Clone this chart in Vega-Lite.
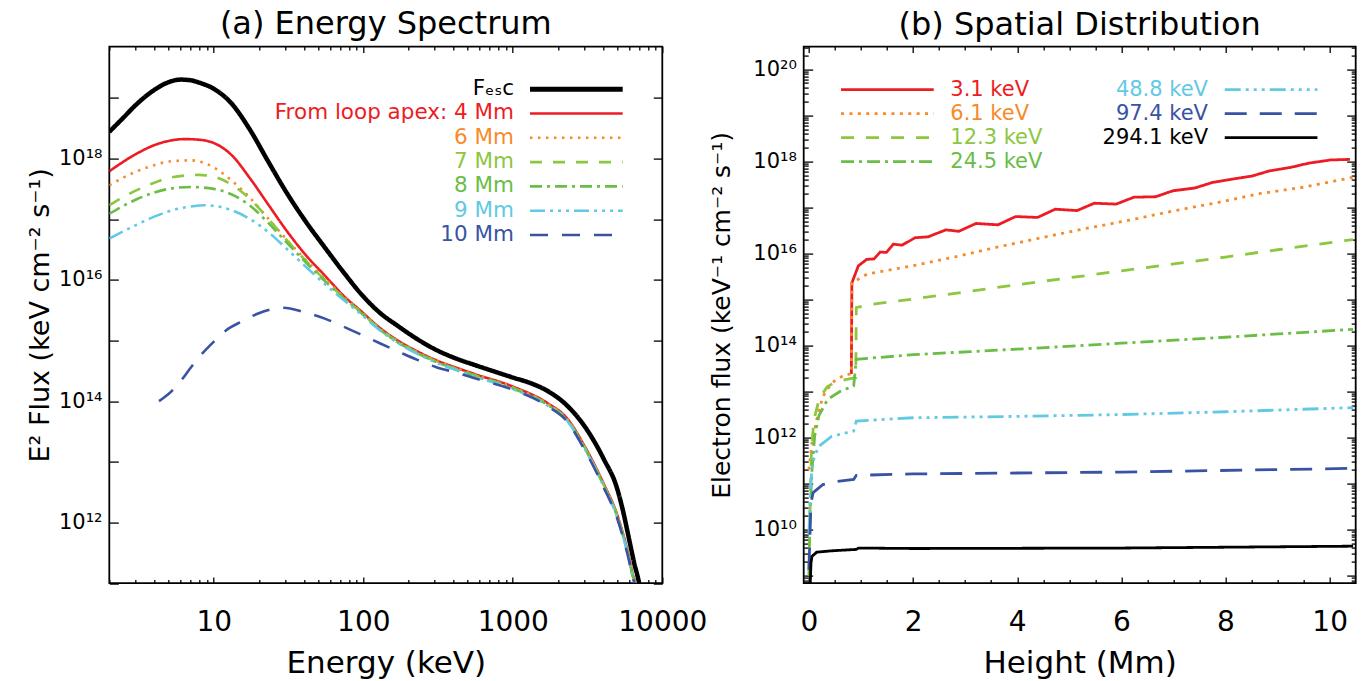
{
  "$schema": "https://vega.github.io/schema/vega-lite/v6.json",
  "autosize": {"type": "pad"},
  "padding": {"left": 25.3, "top": 6.6, "right": 5, "bottom": 5},
  "bounds": "flush",
  "spacing": 141.4,
  "background": "white",
  "config": {
    "view": {"stroke": "black", "strokeWidth": 1.8},
    "font": "DejaVu Sans",
    "axis": {"domain": false, "grid": false, "tickColor": "black", "tickWidth": 1.3, "labelColor": "black", "titleColor": "black", "labelFont": "DejaVu Sans", "titleFont": "DejaVu Sans", "titleFontWeight": "normal", "labelOverlap": false, "labelFlush": false, "labelBound": false},
    "title": {"font": "DejaVu Sans", "fontSize": 32, "fontWeight": "normal", "color": "black", "baseline": "alphabetic", "anchor": "middle", "frame": "group"},
    "legend": {"title": null, "symbolType": "stroke", "padding": 0, "labelFont": "DejaVu Sans", "labelLimit": 500, "clipHeight": 24, "symbolSize": 8593, "symbolOffset": 0}
  },
  "datasets": {
    "spec": [
      {"s":"F_esc","E":2,"F":2.75e18},{"s":"F_esc","E":2.5,"F":4.79e18},{"s":"F_esc","E":3,"F":7.59e18},{"s":"F_esc","E":4,"F":1.35e19},{"s":"F_esc","E":5,"F":1.82e19},{"s":"F_esc","E":6,"F":2.0e19},{"s":"F_esc","E":7,"F":1.95e19},{"s":"F_esc","E":8,"F":1.78e19},{"s":"F_esc","E":10,"F":1.41e19},{"s":"F_esc","E":13,"F":8.32e18},{"s":"F_esc","E":17.5,"F":2.95e18},{"s":"F_esc","E":23,"F":9.12e17},{"s":"F_esc","E":31,"F":2.63e17},{"s":"F_esc","E":41.5,"F":8.91e16},{"s":"F_esc","E":55,"F":3.47e16},{"s":"F_esc","E":74,"F":1.32e16},{"s":"F_esc","E":98,"F":5.62e15},{"s":"F_esc","E":130,"F":2.82e15},{"s":"F_esc","E":170,"F":1.74e15},{"s":"F_esc","E":230,"F":1.05e15},{"s":"F_esc","E":310,"F":6.92e14},{"s":"F_esc","E":420,"F":5.01e14},{"s":"F_esc","E":550,"F":3.98e14},{"s":"F_esc","E":750,"F":3.09e14},{"s":"F_esc","E":1000,"F":2.45e14},{"s":"F_esc","E":1300,"F":2.0e14},{"s":"F_esc","E":1700,"F":1.48e14},{"s":"F_esc","E":2300,"F":8.51e13},{"s":"F_esc","E":3050,"F":3.72e13},{"s":"F_esc","E":4050,"F":1.12e13},{"s":"F_esc","E":5000,"F":3.55e12},{"s":"F_esc","E":5450,"F":1.58e12},{"s":"F_esc","E":6000,"F":5.25e11},{"s":"F_esc","E":6470,"F":2.19e11},{"s":"F_esc","E":7000,"F":9.77e10},{"s":"F_esc","E":7300,"F":5.01e10},

      {"s":"4 Mm","E":2,"F":6.17e17},{"s":"4 Mm","E":3,"F":1.175e18},{"s":"4 Mm","E":4,"F":1.66e18},{"s":"4 Mm","E":5,"F":1.95e18},{"s":"4 Mm","E":6.4,"F":2.09e18},{"s":"4 Mm","E":8,"F":2.04e18},{"s":"4 Mm","E":9.9,"F":1.82e18},{"s":"4 Mm","E":13.1,"F":1.15e18},{"s":"4 Mm","E":17.5,"F":4.68e17},{"s":"4 Mm","E":23.3,"F":1.70e17},{"s":"4 Mm","E":31.1,"F":6.17e16},{"s":"4 Mm","E":41.5,"F":2.51e16},{"s":"4 Mm","E":55.3,"F":1.175e16},{"s":"4 Mm","E":73.6,"F":5.50e15},{"s":"4 Mm","E":98,"F":2.95e15},{"s":"4 Mm","E":123,"F":1.78e15},{"s":"4 Mm","E":170,"F":1.0e15},{"s":"4 Mm","E":230,"F":6.61e14},{"s":"4 Mm","E":310,"F":4.68e14},{"s":"4 Mm","E":420,"F":3.55e14},{"s":"4 Mm","E":550,"F":2.82e14},{"s":"4 Mm","E":1000,"F":1.74e14},{"s":"4 Mm","E":1700,"F":9.33e13},{"s":"4 Mm","E":2300,"F":5.25e13},{"s":"4 Mm","E":3050,"F":1.74e13},{"s":"4 Mm","E":4050,"F":4.37e12},{"s":"4 Mm","E":5000,"F":1.32e12},{"s":"4 Mm","E":5450,"F":6.61e11},{"s":"4 Mm","E":6000,"F":2.63e11},{"s":"4 Mm","E":6300,"F":1.48e11},{"s":"4 Mm","E":6700,"F":9.33e10},{"s":"4 Mm","E":7000,"F":5.25e10},

      {"s":"6 Mm","E":2,"F":3.63e17},{"s":"6 Mm","E":3,"F":6.03e17},{"s":"6 Mm","E":4,"F":7.76e17},{"s":"6 Mm","E":5,"F":8.91e17},{"s":"6 Mm","E":7,"F":9.33e17},{"s":"6 Mm","E":9.9,"F":7.24e17},{"s":"6 Mm","E":13.1,"F":4.37e17},{"s":"6 Mm","E":17.5,"F":2.24e17},{"s":"6 Mm","E":23.3,"F":1.0e17},{"s":"6 Mm","E":31.1,"F":4.47e16},{"s":"6 Mm","E":41.5,"F":2.09e16},{"s":"6 Mm","E":55.3,"F":1.05e16},{"s":"6 Mm","E":73.6,"F":5.25e15},{"s":"6 Mm","E":98,"F":2.88e15},{"s":"6 Mm","E":123,"F":1.74e15},{"s":"6 Mm","E":170,"F":9.77e14},{"s":"6 Mm","E":230,"F":6.46e14},{"s":"6 Mm","E":310,"F":4.57e14},{"s":"6 Mm","E":420,"F":3.47e14},{"s":"6 Mm","E":550,"F":2.75e14},{"s":"6 Mm","E":1000,"F":1.70e14},{"s":"6 Mm","E":1700,"F":9.12e13},{"s":"6 Mm","E":2300,"F":5.13e13},{"s":"6 Mm","E":3050,"F":1.70e13},{"s":"6 Mm","E":4050,"F":4.27e12},{"s":"6 Mm","E":5000,"F":1.29e12},{"s":"6 Mm","E":5450,"F":6.46e11},{"s":"6 Mm","E":6000,"F":2.57e11},{"s":"6 Mm","E":6300,"F":1.44e11},{"s":"6 Mm","E":6700,"F":9.12e10},{"s":"6 Mm","E":7000,"F":5.13e10},

      {"s":"7 Mm","E":2,"F":1.70e17},{"s":"7 Mm","E":3,"F":2.95e17},{"s":"7 Mm","E":4,"F":3.98e17},{"s":"7 Mm","E":5,"F":4.79e17},{"s":"7 Mm","E":7.9,"F":5.37e17},{"s":"7 Mm","E":10,"F":5.01e17},{"s":"7 Mm","E":13.1,"F":3.72e17},{"s":"7 Mm","E":17.5,"F":2.14e17},{"s":"7 Mm","E":23.3,"F":1.0e17},{"s":"7 Mm","E":31.1,"F":4.37e16},{"s":"7 Mm","E":41.5,"F":2.04e16},{"s":"7 Mm","E":55.3,"F":1.0e16},{"s":"7 Mm","E":73.6,"F":5.13e15},{"s":"7 Mm","E":98,"F":2.82e15},{"s":"7 Mm","E":123,"F":1.70e15},{"s":"7 Mm","E":170,"F":9.55e14},{"s":"7 Mm","E":230,"F":6.31e14},{"s":"7 Mm","E":310,"F":4.47e14},{"s":"7 Mm","E":420,"F":3.39e14},{"s":"7 Mm","E":550,"F":2.69e14},{"s":"7 Mm","E":1000,"F":1.66e14},{"s":"7 Mm","E":1700,"F":8.91e13},{"s":"7 Mm","E":2300,"F":5.01e13},{"s":"7 Mm","E":3050,"F":1.66e13},{"s":"7 Mm","E":4050,"F":4.17e12},{"s":"7 Mm","E":5000,"F":1.26e12},{"s":"7 Mm","E":5450,"F":6.31e11},{"s":"7 Mm","E":6000,"F":2.51e11},{"s":"7 Mm","E":6300,"F":1.41e11},{"s":"7 Mm","E":6700,"F":8.91e10},{"s":"7 Mm","E":7000,"F":5.01e10},

      {"s":"8 Mm","E":2,"F":1.23e17},{"s":"8 Mm","E":3,"F":2.09e17},{"s":"8 Mm","E":4,"F":2.75e17},{"s":"8 Mm","E":5,"F":3.16e17},{"s":"8 Mm","E":7,"F":3.39e17},{"s":"8 Mm","E":10,"F":3.16e17},{"s":"8 Mm","E":13.1,"F":2.57e17},{"s":"8 Mm","E":17.5,"F":1.66e17},{"s":"8 Mm","E":23.3,"F":8.51e16},{"s":"8 Mm","E":31.1,"F":3.98e16},{"s":"8 Mm","E":41.5,"F":1.91e16},{"s":"8 Mm","E":55.3,"F":9.55e15},{"s":"8 Mm","E":73.6,"F":5.01e15},{"s":"8 Mm","E":98,"F":2.75e15},{"s":"8 Mm","E":123,"F":1.66e15},{"s":"8 Mm","E":170,"F":9.33e14},{"s":"8 Mm","E":230,"F":6.17e14},{"s":"8 Mm","E":310,"F":4.37e14},{"s":"8 Mm","E":420,"F":3.31e14},{"s":"8 Mm","E":550,"F":2.63e14},{"s":"8 Mm","E":1000,"F":1.62e14},{"s":"8 Mm","E":1700,"F":8.71e13},{"s":"8 Mm","E":2300,"F":4.90e13},{"s":"8 Mm","E":3050,"F":1.62e13},{"s":"8 Mm","E":4050,"F":4.07e12},{"s":"8 Mm","E":5000,"F":1.23e12},{"s":"8 Mm","E":5450,"F":6.17e11},{"s":"8 Mm","E":6000,"F":2.45e11},{"s":"8 Mm","E":6300,"F":1.38e11},{"s":"8 Mm","E":6700,"F":8.71e10},{"s":"8 Mm","E":7000,"F":4.90e10},

      {"s":"9 Mm","E":2,"F":4.79e16},{"s":"9 Mm","E":3,"F":7.94e16},{"s":"9 Mm","E":4,"F":1.10e17},{"s":"9 Mm","E":5,"F":1.35e17},{"s":"9 Mm","E":7,"F":1.62e17},{"s":"9 Mm","E":8.8,"F":1.70e17},{"s":"9 Mm","E":10,"F":1.66e17},{"s":"9 Mm","E":13.1,"F":1.41e17},{"s":"9 Mm","E":17.5,"F":1.0e17},{"s":"9 Mm","E":23.3,"F":6.03e16},{"s":"9 Mm","E":31.1,"F":3.16e16},{"s":"9 Mm","E":41.5,"F":1.62e16},{"s":"9 Mm","E":55.3,"F":8.51e15},{"s":"9 Mm","E":73.6,"F":4.68e15},{"s":"9 Mm","E":98,"F":2.63e15},{"s":"9 Mm","E":123,"F":1.62e15},{"s":"9 Mm","E":170,"F":9.12e14},{"s":"9 Mm","E":230,"F":6.03e14},{"s":"9 Mm","E":310,"F":4.27e14},{"s":"9 Mm","E":420,"F":3.24e14},{"s":"9 Mm","E":550,"F":2.57e14},{"s":"9 Mm","E":1000,"F":1.58e14},{"s":"9 Mm","E":1700,"F":8.51e13},{"s":"9 Mm","E":2300,"F":4.79e13},{"s":"9 Mm","E":3050,"F":1.58e13},{"s":"9 Mm","E":4050,"F":3.98e12},{"s":"9 Mm","E":5000,"F":1.20e12},{"s":"9 Mm","E":5450,"F":6.03e11},{"s":"9 Mm","E":6000,"F":2.40e11},{"s":"9 Mm","E":6300,"F":1.35e11},{"s":"9 Mm","E":6700,"F":8.51e10},{"s":"9 Mm","E":7000,"F":4.79e10},

      {"s":"10 Mm","E":4.3,"F":1.0e14},{"s":"10 Mm","E":5,"F":1.32e14},{"s":"10 Mm","E":6,"F":2.14e14},{"s":"10 Mm","E":7,"F":3.55e14},{"s":"10 Mm","E":8,"F":5.37e14},{"s":"10 Mm","E":10,"F":9.55e14},{"s":"10 Mm","E":12,"F":1.45e15},{"s":"10 Mm","E":15.6,"F":2.09e15},{"s":"10 Mm","E":20,"F":2.82e15},{"s":"10 Mm","E":25,"F":3.31e15},{"s":"10 Mm","E":29.3,"F":3.47e15},{"s":"10 Mm","E":40,"F":2.95e15},{"s":"10 Mm","E":55.3,"F":2.29e15},{"s":"10 Mm","E":75,"F":1.66e15},{"s":"10 Mm","E":98,"F":1.23e15},{"s":"10 Mm","E":130,"F":8.91e14},{"s":"10 Mm","E":174,"F":6.46e14},{"s":"10 Mm","E":230,"F":4.79e14},{"s":"10 Mm","E":308,"F":3.63e14},{"s":"10 Mm","E":420,"F":2.95e14},{"s":"10 Mm","E":549,"F":2.40e14},{"s":"10 Mm","E":1000,"F":1.55e14},{"s":"10 Mm","E":1700,"F":8.32e13},{"s":"10 Mm","E":2300,"F":4.68e13},{"s":"10 Mm","E":3050,"F":1.51e13},{"s":"10 Mm","E":4050,"F":3.80e12},{"s":"10 Mm","E":5000,"F":1.15e12},{"s":"10 Mm","E":5450,"F":5.75e11},{"s":"10 Mm","E":6000,"F":2.29e11},{"s":"10 Mm","E":6300,"F":1.29e11},{"s":"10 Mm","E":6700,"F":8.32e10},{"s":"10 Mm","E":7000,"F":4.57e10}
    ],
    "spatial": [
      {"s":"3.1 keV","h":0.815,"F":2.40e13},{"s":"3.1 keV","h":0.825,"F":2.29e15},{"s":"3.1 keV","h":0.95,"F":5.37e15},{"s":"3.1 keV","h":1.11,"F":7.41e15},{"s":"3.1 keV","h":1.25,"F":7.59e15},{"s":"3.1 keV","h":1.37,"F":1.07e16},{"s":"3.1 keV","h":1.49,"F":1.05e16},{"s":"3.1 keV","h":1.62,"F":1.585e16},{"s":"3.1 keV","h":1.79,"F":1.51e16},{"s":"3.1 keV","h":2.04,"F":2.19e16},{"s":"3.1 keV","h":2.29,"F":2.29e16},{"s":"3.1 keV","h":2.63,"F":3.24e16},{"s":"3.1 keV","h":2.88,"F":3.02e16},{"s":"3.1 keV","h":3.21,"F":4.47e16},{"s":"3.1 keV","h":3.63,"F":4.17e16},{"s":"3.1 keV","h":3.97,"F":6.31e16},{"s":"3.1 keV","h":4.39,"F":6.03e16},{"s":"3.1 keV","h":4.73,"F":9.12e16},{"s":"3.1 keV","h":5.15,"F":8.51e16},{"s":"3.1 keV","h":5.48,"F":1.23e17},{"s":"3.1 keV","h":5.90,"F":1.175e17},{"s":"3.1 keV","h":6.24,"F":1.66e17},{"s":"3.1 keV","h":6.66,"F":1.70e17},{"s":"3.1 keV","h":6.99,"F":2.29e17},{"s":"3.1 keV","h":7.41,"F":2.63e17},{"s":"3.1 keV","h":7.75,"F":3.47e17},{"s":"3.1 keV","h":8.17,"F":4.17e17},{"s":"3.1 keV","h":8.51,"F":4.79e17},{"s":"3.1 keV","h":8.84,"F":6.17e17},{"s":"3.1 keV","h":9.26,"F":7.41e17},{"s":"3.1 keV","h":9.60,"F":9.12e17},{"s":"3.1 keV","h":10.02,"F":1.07e18},{"s":"3.1 keV","h":10.39,"F":1.10e18},

      {"s":"6.1 keV","h":0.0,"F":2.0e11},{"s":"6.1 keV","h":0.03,"F":4.0e11},{"s":"6.1 keV","h":0.06,"F":7.59e11},{"s":"6.1 keV","h":0.15,"F":2.45e12},{"s":"6.1 keV","h":0.27,"F":7.94e12},{"s":"6.1 keV","h":0.44,"F":1.55e13},{"s":"6.1 keV","h":0.69,"F":2.34e13},{"s":"6.1 keV","h":0.815,"F":2.40e13},{"s":"6.1 keV","h":0.825,"F":2.29e15},{"s":"6.1 keV","h":1.12,"F":3.55e15},{"s":"6.1 keV","h":1.95,"F":5.25e15},{"s":"6.1 keV","h":2.79,"F":8.32e15},{"s":"6.1 keV","h":3.63,"F":1.38e16},{"s":"6.1 keV","h":4.47,"F":2.19e16},{"s":"6.1 keV","h":5.31,"F":3.47e16},{"s":"6.1 keV","h":6.15,"F":5.25e16},{"s":"6.1 keV","h":6.99,"F":8.32e16},{"s":"6.1 keV","h":7.83,"F":1.26e17},{"s":"6.1 keV","h":8.67,"F":2.0e17},{"s":"6.1 keV","h":9.51,"F":2.75e17},{"s":"6.1 keV","h":10.44,"F":4.47e17},

      {"s":"12.3 keV","h":0.02,"F":2.0e10},{"s":"12.3 keV","h":0.05,"F":6.31e11},{"s":"12.3 keV","h":0.1,"F":2.51e12},{"s":"12.3 keV","h":0.2,"F":7.08e12},{"s":"12.3 keV","h":0.35,"F":1.26e13},{"s":"12.3 keV","h":0.5,"F":1.585e13},{"s":"12.3 keV","h":0.7,"F":1.82e13},{"s":"12.3 keV","h":0.9,"F":2.0e13},{"s":"12.3 keV","h":0.91,"F":6.61e14},{"s":"12.3 keV","h":1.12,"F":7.59e14},{"s":"12.3 keV","h":2,"F":1.02e15},{"s":"12.3 keV","h":3,"F":1.45e15},{"s":"12.3 keV","h":4,"F":2.09e15},{"s":"12.3 keV","h":5,"F":2.95e15},{"s":"12.3 keV","h":6,"F":4.17e15},{"s":"12.3 keV","h":7,"F":5.89e15},{"s":"12.3 keV","h":8,"F":8.32e15},{"s":"12.3 keV","h":9,"F":1.20e16},{"s":"12.3 keV","h":10.45,"F":2.0e16},

      {"s":"24.5 keV","h":0.0,"F":1.0e9},{"s":"24.5 keV","h":0.02,"F":1.95e10},{"s":"24.5 keV","h":0.06,"F":2.0e11},{"s":"24.5 keV","h":0.11,"F":1.07e12},{"s":"24.5 keV","h":0.19,"F":2.95e12},{"s":"24.5 keV","h":0.36,"F":6.76e12},{"s":"24.5 keV","h":0.61,"F":1.02e13},{"s":"24.5 keV","h":0.86,"F":1.32e13},{"s":"24.5 keV","h":0.91,"F":5.01e13},{"s":"24.5 keV","h":2,"F":6.31e13},{"s":"24.5 keV","h":4,"F":8.32e13},{"s":"24.5 keV","h":6,"F":1.12e14},{"s":"24.5 keV","h":8,"F":1.51e14},{"s":"24.5 keV","h":10.45,"F":2.24e14},

      {"s":"48.8 keV","h":0.0,"F":7.94e9},{"s":"48.8 keV","h":0.02,"F":3.98e10},{"s":"48.8 keV","h":0.04,"F":1.0e11},{"s":"48.8 keV","h":0.06,"F":2.40e11},{"s":"48.8 keV","h":0.11,"F":3.98e11},{"s":"48.8 keV","h":0.19,"F":6.46e11},{"s":"48.8 keV","h":0.44,"F":1.07e12},{"s":"48.8 keV","h":0.86,"F":1.38e12},{"s":"48.8 keV","h":0.91,"F":2.29e12},{"s":"48.8 keV","h":2,"F":2.69e12},{"s":"48.8 keV","h":4,"F":2.88e12},{"s":"48.8 keV","h":6,"F":3.16e12},{"s":"48.8 keV","h":8,"F":3.63e12},{"s":"48.8 keV","h":10.45,"F":4.47e12},

      {"s":"97.4 keV","h":0.0,"F":1.35e9},{"s":"97.4 keV","h":0.02,"F":7.24e9},{"s":"97.4 keV","h":0.04,"F":3.80e10},{"s":"97.4 keV","h":0.08,"F":6.31e10},{"s":"97.4 keV","h":0.15,"F":7.41e10},{"s":"97.4 keV","h":0.27,"F":9.55e10},{"s":"97.4 keV","h":0.5,"F":1.10e11},{"s":"97.4 keV","h":0.86,"F":1.23e11},{"s":"97.4 keV","h":0.91,"F":1.51e11},{"s":"97.4 keV","h":2,"F":1.62e11},{"s":"97.4 keV","h":6,"F":1.78e11},{"s":"97.4 keV","h":10.45,"F":2.14e11},

      {"s":"294.1 keV","h":0.015,"F":3.16e8},{"s":"294.1 keV","h":0.04,"F":1.91e9},{"s":"294.1 keV","h":0.06,"F":2.63e9},{"s":"294.1 keV","h":0.15,"F":3.24e9},{"s":"294.1 keV","h":0.44,"F":3.47e9},{"s":"294.1 keV","h":0.91,"F":3.72e9},{"s":"294.1 keV","h":0.95,"F":3.98e9},{"s":"294.1 keV","h":2,"F":3.89e9},{"s":"294.1 keV","h":6,"F":3.98e9},{"s":"294.1 keV","h":10.45,"F":4.37e9}
    ]
  },
  "hconcat": [
    {
      "width": 553,
      "height": 536.5,
      "title": {"text": "(a) Energy Spectrum", "offset": 4.5},
      "data": {"name": "spec"},
      "layer": [
        {
          "mark": {"type": "line", "clip": true, "interpolate": "monotone"},
          "encoding": {
            "x": {"field": "E", "type": "quantitative",
              "scale": {"type": "log", "domain": [2, 10000], "nice": false},
              "axis": {"orient": "bottom", "title": "Energy (keV)", "titleFontSize": 31, "titleY": 89, "titleBaseline": "alphabetic",
                "values": [2,3,4,5,6,7,8,9,10,20,30,40,50,60,70,80,90,100,200,300,400,500,600,700,800,900,1000,2000,3000,4000,5000,6000,7000,8000,9000,10000],
                "labelExpr": "datum.value == 10 ? '10' : datum.value == 100 ? '100' : datum.value == 1000 ? '1000' : datum.value == 10000 ? '10000' : ''",
                "labelFontSize": 28, "labelPadding": 31,
                "tickSize": {"condition": {"test": "indexof([10,100,1000,10000], datum.value) >= 0", "value": -6}, "value": -3.5}}},
            "y": {"field": "F", "type": "quantitative",
              "scale": {"type": "log", "domain": [1e11, 7e19], "nice": false},
              "axis": {"orient": "left", "title": "E² Flux (keV cm⁻² s⁻¹)", "titleFontSize": 27, "titleX": -68.8, "titleY": 268.25, "titleBaseline": "middle", "titleAngle": -90,
                "values": [1e11,1e12,1e13,1e14,1e15,1e16,1e17,1e18,1e19],
                "labelExpr": "datum.value == 1e12 ? '10¹²' : datum.value == 1e14 ? '10¹⁴' : datum.value == 1e16 ? '10¹⁶' : datum.value == 1e18 ? '10¹⁸' : ''",
                "labelFontSize": 21, "labelPadding": 16.3, "tickSize": -9}},
            "color": {"field": "s", "type": "nominal",
              "scale": {"domain": ["F_esc","4 Mm","6 Mm","7 Mm","8 Mm","9 Mm","10 Mm"], "range": ["#000000","#ED1C24","#F68B2C","#8DC63F","#6ABD45","#62C9E3","#3953A4"]},
              "legend": {"orient": "none", "legendX": 419.05, "legendY": 30.6, "rowPadding": 0.3, "labelFontSize": 21.5, "symbolStrokeWidth": 2.6,
                "labelExpr": "datum.value == 'F_esc' ? 'Fₑₛc' : datum.value == '4 Mm' ? 'From loop apex: 4 Mm' : datum.value",
                "encode": {
                  "entries": {"update": {"width": {"value": 120}}},
                  "labels": {"update": {"x": {"value": -14.35}, "align": {"value": "right"}, "fill": {"signal": "(datum.value == 'F_esc' ? '#000000' : datum.value == '4 Mm' ? '#ED1C24' : datum.value == '6 Mm' ? '#F68B2C' : datum.value == '7 Mm' ? '#8DC63F' : datum.value == '8 Mm' ? '#6ABD45' : datum.value == '9 Mm' ? '#62C9E3' : '#3953A4')"}}},
                  "symbols": {"update": {"strokeWidth": {"signal": "(datum.value == 'F_esc' ? 5 : 2.6)"}}}
                }}},
            "strokeDash": {"field": "s", "type": "nominal",
              "scale": {"domain": ["F_esc","4 Mm","6 Mm","7 Mm","8 Mm","9 Mm","10 Mm"], "range": [[1,0],[1,0],[2.5,5.5],[12,11],[12,5,3,5],[15,5,3,5,3,5,3,5],[18,14]]},
              "legend": {"orient": "none", "legendX": 419.05, "legendY": 30.6, "rowPadding": 0.3, "labelFontSize": 21.5, "symbolStrokeWidth": 2.6,
                "labelExpr": "datum.value == 'F_esc' ? 'Fₑₛc' : datum.value == '4 Mm' ? 'From loop apex: 4 Mm' : datum.value",
                "encode": {
                  "entries": {"update": {"width": {"value": 120}}},
                  "labels": {"update": {"x": {"value": -14.35}, "align": {"value": "right"}, "fill": {"signal": "(datum.value == 'F_esc' ? '#000000' : datum.value == '4 Mm' ? '#ED1C24' : datum.value == '6 Mm' ? '#F68B2C' : datum.value == '7 Mm' ? '#8DC63F' : datum.value == '8 Mm' ? '#6ABD45' : datum.value == '9 Mm' ? '#62C9E3' : '#3953A4')"}}},
                  "symbols": {"update": {"strokeWidth": {"signal": "(datum.value == 'F_esc' ? 5 : 2.6)"}}}
                }}},
            "strokeWidth": {"condition": {"test": "datum.s === 'F_esc'", "value": 4.5}, "value": 2.6}
          }
        },
        {
          "mark": {"type": "line", "opacity": 0},
          "encoding": {
            "x": {"field": "E", "type": "quantitative",
              "axis": {"orient": "top", "title": null, "labels": false,
                "values": [2,3,4,5,6,7,8,9,10,20,30,40,50,60,70,80,90,100,200,300,400,500,600,700,800,900,1000,2000,3000,4000,5000,6000,7000,8000,9000,10000],
                "tickSize": {"condition": {"test": "indexof([10,100,1000,10000], datum.value) >= 0", "value": -6}, "value": -3.5}}},
            "y": {"field": "F", "type": "quantitative",
              "axis": {"orient": "right", "title": null, "labels": false, "values": [1e11,1e12,1e13,1e14,1e15,1e16,1e17,1e18,1e19], "tickSize": -9}},
            "detail": {"field": "s"}
          }
        }
      ],
      "resolve": {"axis": {"x": "independent", "y": "independent"}}
    },
    {
      "width": 552,
      "height": 536.5,
      "title": {"text": "(b) Spatial Distribution", "offset": -5.5},
      "data": {"name": "spatial"},
      "layer": [
        {
          "transform": [{"filter": {"field": "s", "oneOf": ["3.1 keV","6.1 keV","12.3 keV","24.5 keV"]}}],
          "mark": {"type": "line", "clip": true, "strokeWidth": 2.8},
          "encoding": {
            "x": {"field": "h", "type": "quantitative",
              "scale": {"domain": [-0.1, 10.5], "nice": false, "zero": false},
              "axis": {"orient": "bottom", "title": "Height (Mm)", "titleFontSize": 31, "titleY": 89, "titleBaseline": "alphabetic",
                "values": [0,0.5,1,1.5,2,2.5,3,3.5,4,4.5,5,5.5,6,6.5,7,7.5,8,8.5,9,9.5,10],
                "labelExpr": "datum.value % 2 == 0 ? format(datum.value, 'd') : ''",
                "labelFontSize": 28, "labelPadding": 31,
                "tickSize": {"condition": {"test": "datum.value % 2 == 0", "value": -6}, "value": -3.5}}},
            "y": {"field": "F", "type": "quantitative",
              "scale": {"type": "log", "domain": [6.9e8, 3.1e20], "nice": false},
              "axis": {"orient": "left", "title": "Electron flux (keV⁻¹ cm⁻² s⁻¹)", "titleFontSize": 25, "titleX": -81.7, "titleY": 268.25, "titleBaseline": "middle", "titleAngle": -90,
                "values": [7e8,8e8,9e8,1e9,2e9,3e9,4e9,5e9,6e9,7e9,8e9,9e9,1e10,2e10,3e10,4e10,5e10,6e10,7e10,8e10,9e10,1e11,2e11,3e11,4e11,5e11,6e11,7e11,8e11,9e11,1e12,2e12,3e12,4e12,5e12,6e12,7e12,8e12,9e12,1e13,2e13,3e13,4e13,5e13,6e13,7e13,8e13,9e13,1e14,2e14,3e14,4e14,5e14,6e14,7e14,8e14,9e14,1e15,2e15,3e15,4e15,5e15,6e15,7e15,8e15,9e15,1e16,2e16,3e16,4e16,5e16,6e16,7e16,8e16,9e16,1e17,2e17,3e17,4e17,5e17,6e17,7e17,8e17,9e17,1e18,2e18,3e18,4e18,5e18,6e18,7e18,8e18,9e18,1e19,2e19,3e19,4e19,5e19,6e19,7e19,8e19,9e19,1e20,2e20,3e20],
                "labelExpr": "datum.value == 1e10 ? '10¹⁰' : datum.value == 1e12 ? '10¹²' : datum.value == 1e14 ? '10¹⁴' : datum.value == 1e16 ? '10¹⁶' : datum.value == 1e18 ? '10¹⁸' : datum.value == 1e20 ? '10²⁰' : ''",
                "labelFontSize": 21, "labelPadding": 16.3,
                "tickSize": {"condition": {"test": "abs(log(datum.value)/LN10 - round(log(datum.value)/LN10)) < 0.001", "value": -9}, "value": -4.5}}},
            "color": {"field": "s", "type": "nominal",
              "scale": {"domain": ["3.1 keV","6.1 keV","12.3 keV","24.5 keV"], "range": ["#ED1C24","#F68B2C","#8DC63F","#6ABD45"]},
              "legend": {"orient": "none", "legendX": 35.7, "legendY": 31, "rowPadding": 0, "labelFontSize": 21, "symbolStrokeWidth": 2.8, "labelOffset": 14.9,
                "encode": {"entries": {"update": {"width": {"value": 120}}}, "labels": {"update": {"fill": {"signal": "(datum.value == '3.1 keV' ? '#ED1C24' : datum.value == '6.1 keV' ? '#F68B2C' : datum.value == '12.3 keV' ? '#8DC63F' : '#6ABD45')"}}}}}},
            "strokeDash": {"field": "s", "type": "nominal",
              "scale": {"domain": ["3.1 keV","6.1 keV","12.3 keV","24.5 keV"], "range": [[1,0],[3,5.4],[13,12],[13,5,3,5]]},
              "legend": {"orient": "none", "legendX": 35.7, "legendY": 31, "rowPadding": 0, "labelFontSize": 21, "symbolStrokeWidth": 2.8, "labelOffset": 14.9,
                "encode": {"entries": {"update": {"width": {"value": 120}}}, "labels": {"update": {"fill": {"signal": "(datum.value == '3.1 keV' ? '#ED1C24' : datum.value == '6.1 keV' ? '#F68B2C' : datum.value == '12.3 keV' ? '#8DC63F' : '#6ABD45')"}}}}}}
          }
        },
        {
          "transform": [{"filter": {"field": "s", "oneOf": ["48.8 keV","97.4 keV","294.1 keV"]}}],
          "mark": {"type": "line", "clip": true, "strokeWidth": 2.8},
          "encoding": {
            "x": {"field": "h", "type": "quantitative", "axis": null},
            "y": {"field": "F", "type": "quantitative", "axis": null},
            "color": {"field": "s", "type": "nominal",
              "scale": {"domain": ["48.8 keV","97.4 keV","294.1 keV"], "range": ["#62C9E3","#3953A4","#000000"]},
              "legend": {"orient": "none", "legendX": 419.4, "legendY": 31, "rowPadding": 0, "labelFontSize": 21, "symbolStrokeWidth": 2.8,
                "encode": {"entries": {"update": {"width": {"value": 120}}}, "labels": {"update": {"x": {"value": -15.1}, "align": {"value": "right"}, "fill": {"signal": "(datum.value == '48.8 keV' ? '#62C9E3' : datum.value == '97.4 keV' ? '#3953A4' : '#000000')"}}}}}},
            "strokeDash": {"field": "s", "type": "nominal",
              "scale": {"domain": ["48.8 keV","97.4 keV","294.1 keV"], "range": [[16,5,3,5,3,5,3,5],[22,13],[1,0]]},
              "legend": {"orient": "none", "legendX": 419.4, "legendY": 31, "rowPadding": 0, "labelFontSize": 21, "symbolStrokeWidth": 2.8,
                "encode": {"entries": {"update": {"width": {"value": 120}}}, "labels": {"update": {"x": {"value": -15.1}, "align": {"value": "right"}, "fill": {"signal": "(datum.value == '48.8 keV' ? '#62C9E3' : datum.value == '97.4 keV' ? '#3953A4' : '#000000')"}}}}}}
          }
        },
        {
          "mark": {"type": "line", "opacity": 0},
          "encoding": {
            "x": {"field": "h", "type": "quantitative",
              "axis": {"orient": "top", "title": null, "labels": false,
                "values": [0,0.5,1,1.5,2,2.5,3,3.5,4,4.5,5,5.5,6,6.5,7,7.5,8,8.5,9,9.5,10],
                "tickSize": {"condition": {"test": "datum.value % 2 == 0", "value": -6}, "value": -3.5}}},
            "y": {"field": "F", "type": "quantitative",
              "axis": {"orient": "right", "title": null, "labels": false,
                "values": [7e8,8e8,9e8,1e9,2e9,3e9,4e9,5e9,6e9,7e9,8e9,9e9,1e10,2e10,3e10,4e10,5e10,6e10,7e10,8e10,9e10,1e11,2e11,3e11,4e11,5e11,6e11,7e11,8e11,9e11,1e12,2e12,3e12,4e12,5e12,6e12,7e12,8e12,9e12,1e13,2e13,3e13,4e13,5e13,6e13,7e13,8e13,9e13,1e14,2e14,3e14,4e14,5e14,6e14,7e14,8e14,9e14,1e15,2e15,3e15,4e15,5e15,6e15,7e15,8e15,9e15,1e16,2e16,3e16,4e16,5e16,6e16,7e16,8e16,9e16,1e17,2e17,3e17,4e17,5e17,6e17,7e17,8e17,9e17,1e18,2e18,3e18,4e18,5e18,6e18,7e18,8e18,9e18,1e19,2e19,3e19,4e19,5e19,6e19,7e19,8e19,9e19,1e20,2e20,3e20],
                "tickSize": {"condition": {"test": "abs(log(datum.value)/LN10 - round(log(datum.value)/LN10)) < 0.001", "value": -9}, "value": -4.5}}},
            "detail": {"field": "s"}
          }
        }
      ],
      "resolve": {"scale": {"color": "independent", "strokeDash": "independent"}, "axis": {"x": "independent", "y": "independent"}}
    }
  ]
}
